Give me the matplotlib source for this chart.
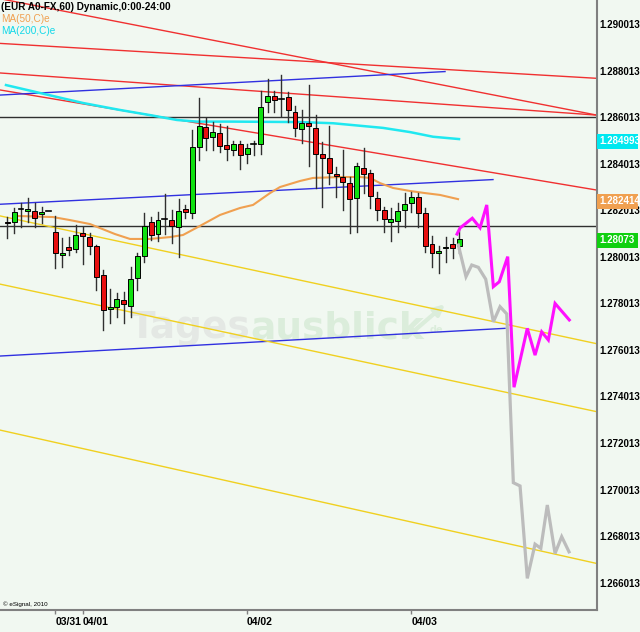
import matplotlib
matplotlib.use('Agg')
import matplotlib.pyplot as plt
from matplotlib.patches import Rectangle
from matplotlib import font_manager
import numpy as np

# ---------------- data ----------------
opens = [1.28152, 1.28149, 1.28205, 1.28198, 1.28198, 1.28184, 1.28198, 1.28109, 1.28009, 1.28045,
         1.28033, 1.28102, 1.28088, 1.28048, 1.27923, 1.27776, 1.27787, 1.27816, 1.27791, 1.27911,
         1.28006, 1.28149, 1.28098, 1.28162, 1.28159, 1.28131, 1.28207, 1.28188, 1.28472, 1.28560,
         1.28518, 1.28532, 1.28481, 1.28460, 1.28486, 1.28442, 1.28485, 1.28487, 1.28668, 1.28692,
         1.28678, 1.28686, 1.28625, 1.28550, 1.28574, 1.28553, 1.28443, 1.28424, 1.28357, 1.28343,
         1.28317, 1.28253, 1.28384, 1.28360, 1.28253, 1.28202, 1.28152, 1.28155, 1.28202, 1.28231,
         1.28257, 1.28191, 1.28055, 1.28016, 1.28038, 1.28055, 1.28049]
highs = [1.28173, 1.28210, 1.28231, 1.28253, 1.28231, 1.28216, 1.28200, 1.28177, 1.28081, 1.28088,
         1.28138, 1.28131, 1.28105, 1.28052, 1.27944, 1.27862, 1.27844, 1.27851, 1.27959, 1.28016,
         1.28188, 1.28173, 1.28192, 1.28270, 1.28202, 1.28248, 1.28224, 1.28546, 1.28682, 1.28597,
         1.28582, 1.28572, 1.28565, 1.28499, 1.28499, 1.28486, 1.28499, 1.28713, 1.28764, 1.28712,
         1.28782, 1.28710, 1.28649, 1.28632, 1.28739, 1.28610, 1.28494, 1.28563, 1.28388, 1.28460,
         1.28345, 1.28403, 1.28467, 1.28374, 1.28281, 1.28216, 1.28210, 1.28231, 1.28277, 1.28281,
         1.28277, 1.28210, 1.28091, 1.28048, 1.28088, 1.28081, 1.28116]
lows = [1.28081, 1.28102, 1.28131, 1.28152, 1.28131, 1.28145, 1.28196, 1.27952, 1.27959, 1.28009,
        1.28023, 1.27969, 1.28012, 1.27859, 1.27687, 1.27716, 1.27744, 1.27716, 1.27744, 1.27859,
        1.27980, 1.28073, 1.28069, 1.28099, 1.28059, 1.27999, 1.28167, 1.28167, 1.28417, 1.28460,
        1.28460, 1.28451, 1.28417, 1.28439, 1.28377, 1.28403, 1.28439, 1.28443, 1.28625, 1.28625,
        1.28606, 1.28582, 1.28519, 1.28489, 1.28391, 1.28297, 1.28216, 1.28314, 1.28259, 1.28202,
        1.28102, 1.28109, 1.28274, 1.28210, 1.28159, 1.28109, 1.28070, 1.28109, 1.28131, 1.28195,
        1.28131, 1.28023, 1.27959, 1.27930, 1.27980, 1.27998, 1.28019]
closes = [1.28146, 1.28195, 1.28205, 1.28205, 1.28167, 1.28195, 1.28198, 1.28019, 1.28016, 1.28030,
          1.28095, 1.28091, 1.28049, 1.27916, 1.27773, 1.27787, 1.27819, 1.27797, 1.27905, 1.28005,
          1.28135, 1.28095, 1.28159, 1.28162, 1.28134, 1.28198, 1.28192, 1.28472, 1.28564, 1.28510,
          1.28536, 1.28479, 1.28463, 1.28486, 1.28437, 1.28467, 1.28485, 1.28646, 1.28692, 1.28676,
          1.28678, 1.28633, 1.28555, 1.28576, 1.28562, 1.28444, 1.28424, 1.28363, 1.28347, 1.28321,
          1.28248, 1.28391, 1.28357, 1.28262, 1.28202, 1.28162, 1.28162, 1.28199, 1.28228, 1.28257,
          1.28188, 1.28048, 1.28019, 1.28025, 1.28045, 1.28038, 1.28076]

# moving averages (bar index, price)
ma50_x = [1.12, 6.67, 9.15, 12.07, 15.72, 17.91, 20.83, 23.75, 25.65, 28.13, 31.05, 33.97, 35.87,
          38.35, 39.81, 42.73, 44.63, 48.57, 51.49, 52.95, 54.41, 56.31, 58.79, 60.98, 63.17, 65.80]
ma50_y = [1.28177, 1.28172, 1.28159, 1.28142, 1.28099, 1.28078, 1.28078, 1.28086, 1.28095, 1.28134,
          1.28181, 1.28211, 1.28224, 1.28275, 1.28301, 1.28327, 1.28340, 1.28344, 1.28344, 1.28340,
          1.28318, 1.28297, 1.28284, 1.28275, 1.28267, 1.28249]
ma200_x = [-0.19, 4.77, 11.05, 16.45, 20.83, 24.77, 27.69, 32.95, 42.73, 47.55, 54.85, 58.79, 62.15, 65.94]
ma200_y = [1.28739, 1.28705, 1.28662, 1.28632, 1.28610, 1.28589, 1.28582, 1.28582, 1.28580, 1.28575,
           1.28555, 1.28537, 1.28517, 1.28507]

# projections
proj_mag_x = [65.65, 66.09, 67.88, 69.01, 69.99, 70.95, 71.82, 73.05, 73.97, 75.91, 77.04, 78.01, 78.98, 79.96, 82.04]
proj_mag_y = [1.28099, 1.28125, 1.28167, 1.28126, 1.28224, 1.27873, 1.27894, 1.28002, 1.27441, 1.27694,
              1.27579, 1.27679, 1.27644, 1.27801, 1.27730]
proj_gray_x = [65.84, 66.96, 67.80, 68.76, 69.84, 70.95, 71.93, 72.91, 73.31, 73.87, 74.85, 75.91, 77.04,
               77.88, 78.83, 79.96, 80.93, 82.00]
proj_gray_y = [1.28052, 1.27916, 1.27966, 1.27956, 1.27905, 1.27722, 1.27787, 1.27756, 1.27450, 1.27031,
               1.27017, 1.26620, 1.26767, 1.26749, 1.26935, 1.26727, 1.26799, 1.26734]

# trend lines: (x0, y0, x1, y1) in bar index / price
red_lines = [(-1.07, 1.28918, 86.04, 1.28768),
             (-1.07, 1.29110, 86.04, 1.28610),
             (-1.07, 1.28791, 86.04, 1.28610),
             (-1.07, 1.28718, 86.04, 1.28288)]
blue_lines = [(-1.07, 1.28696, 63.90, 1.28797),
              (-1.07, 1.28227, 70.90, 1.28333),
              (-1.07, 1.27575, 72.66, 1.27694)]
yellow_lines = [(-1.07, 1.28177, 86.04, 1.27628),
                (-1.07, 1.27884, 86.04, 1.27336),
                (-1.07, 1.27257, 86.04, 1.26684)]
hlines = [1.28603, 1.28134]

ytick_vals = [1.266013 + 0.002 * k for k in range(13)]
xtick_pos = [7, 11, 35, 59]
xtick_lab = ['03/31', '04/01', '04/02', '04/03']

price_boxes = [('1.284993', 1.284993, '#00e8f0'),
               ('1.282414', 1.282414, '#f0a050'),
               ('1.28073', 1.28073, '#10d010')]

# ---------------- figure ----------------
avail = {f.name for f in font_manager.fontManager.ttflist}
narrow = None
for cand in ['Liberation Sans Narrow', 'DejaVu Sans Condensed']:
    if cand in avail:
        narrow = cand
        break

W, H = 640, 632
BG = '#f1f8f1'
fig = plt.figure(figsize=(W / 100, H / 100), dpi=100, facecolor=BG)
ax = fig.add_axes([0, 22 / H, 596.7 / W, 610 / H], facecolor=BG)
ax.set_xlim(-1.066, 86.04)
ax.set_ylim(1.264841, 1.291044)

# watermark
ax.text(35.5, 1.27652, 'Tages', fontsize=27, fontweight='bold', color='#e4e8e4',
        ha='right', va='baseline', zorder=0, family='DejaVu Sans')
ax.text(35.5, 1.27652, 'ausblick', fontsize=27, fontweight='bold', color='#dbeddb',
        ha='left', va='baseline', zorder=0, family='DejaVu Sans')
ax.text(61.6, 1.27672, 'de', fontsize=7, fontweight='bold', color='#dbeddb', zorder=0)
ax.annotate('', xy=(64.2, 1.27805), xytext=(58.0, 1.27648),
            arrowprops=dict(arrowstyle='-|>', color='#dbeddb', lw=3, mutation_scale=15), zorder=0)

for y in hlines:
    ax.axhline(y, color='#303030', lw=1.0, zorder=1)
for (x0, y0, x1, y1) in red_lines:
    ax.plot([x0, x1], [y0, y1], color='#f03030', lw=1.0, zorder=1)
for (x0, y0, x1, y1) in blue_lines:
    ax.plot([x0, x1], [y0, y1], color='#3030e0', lw=1.0, zorder=1)
for (x0, y0, x1, y1) in yellow_lines:
    ax.plot([x0, x1], [y0, y1], color='#f0d020', lw=1.0, zorder=1)

ax.plot(ma200_x, ma200_y, color='#20e8f0', lw=1.8, zorder=2)
ax.plot(ma50_x, ma50_y, color='#f0a050', lw=1.5, zorder=2)

# candles
bw = 0.72
for i, (o, h, l, c) in enumerate(zip(opens, highs, lows, closes)):
    ax.plot([i, i], [l, h], color='#303030', lw=1.0, zorder=3)
    if abs(c - o) < 0.00001:
        ax.plot([i - bw / 2, i + bw / 2], [o, o], color='black', lw=1.2, zorder=4)
    else:
        col = '#10e010' if c > o else '#e81010'
        ax.add_patch(Rectangle((i - bw / 2, min(o, c)), bw, abs(c - o), facecolor=col,
                               edgecolor='black', lw=0.7, zorder=4))

ax.plot(proj_gray_x, proj_gray_y, color='#bcbcbc', lw=2.3, zorder=5, solid_joinstyle='miter')
ax.plot(proj_mag_x, proj_mag_y, color='#ff10ff', lw=2.2, zorder=6, solid_joinstyle='miter')

# axes styling
for s in ['top', 'left']:
    ax.spines[s].set_visible(False)
for s in ['right', 'bottom']:
    ax.spines[s].set_color('#808080')
    ax.spines[s].set_linewidth(1.5)
ax.yaxis.tick_right()
ax.set_yticks(ytick_vals)
ax.set_yticklabels(['%.6f' % v for v in ytick_vals], fontweight='bold', family='Liberation Sans')
ax.tick_params(axis='y', length=0, pad=2, labelsize=7)
ax.set_xticks(xtick_pos)
if narrow:
    ax.set_xticklabels(xtick_lab, ha='left', fontweight='bold', family=narrow, fontsize=8.5)
else:
    ax.set_xticklabels(xtick_lab, ha='left', fontweight='bold', family='Liberation Sans', fontsize=7.5)
ax.tick_params(axis='x', length=3, width=1, color='#808080', pad=2)

# price boxes on right axis
for lab, val, col in price_boxes:
    ydisp = ax.transData.transform((0, val))[1]
    yf = ydisp / H
    fig.patches.append(Rectangle((597 / W, yf - 8 / H), 41 / W, 15 / H, transform=fig.transFigure,
                                 facecolor=col, edgecolor='none', zorder=10))
    fig.text(599 / W, yf, lab, color='white', fontsize=7, fontweight='bold',
             family='Liberation Sans', va='center', ha='left', zorder=11)

# header
fig.text(1 / W, 1 - 7 / H, '(EUR A0-FX,60) Dynamic,0:00-24:00', fontsize=7.2, fontweight='bold',
         family='Liberation Sans', va='center', ha='left', color='black')
fig.text(1 / W, 1 - 19 / H, 'MA(50,C)e', fontsize=7.2, family='Liberation Sans',
         va='center', ha='left', color='#f0a050')
fig.text(1 / W, 1 - 31 / H, 'MA(200,C)e', fontsize=7.2, family='Liberation Sans',
         va='center', ha='left', color='#10d8e8')
fig.text(3 / W, 1 - 604 / H, '\u00a9 eSignal, 2010', fontsize=4.5, family='Liberation Sans',
         va='center', ha='left', color='black')

fig.savefig('out.png', dpi=100, facecolor=BG)
